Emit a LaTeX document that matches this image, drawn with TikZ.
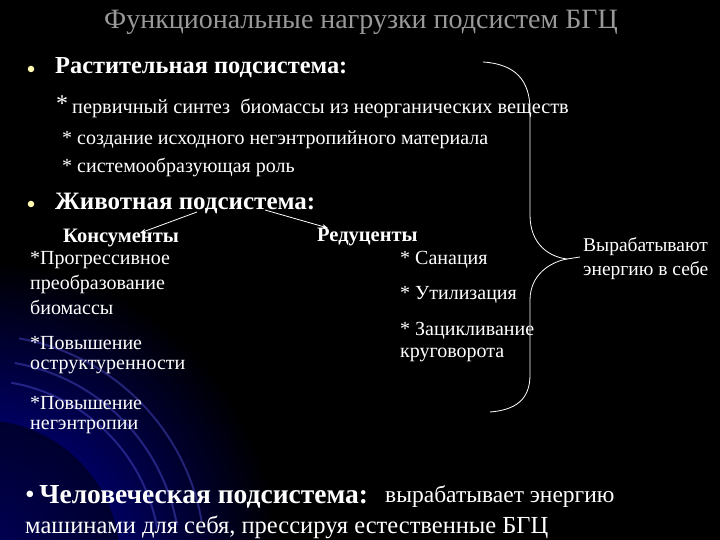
\documentclass[tikz,border=0pt]{standalone}
\usepackage{fontspec}
\setmainfont{Liberation Serif}
\usetikzlibrary{arrows.meta}
\newcommand{\fs}[1]{\fontsize{#1}{#1}\selectfont}
\begin{document}
\begin{tikzpicture}[x=1pt,y=-1pt,
  txt/.style={anchor=west,text=white,inner sep=0pt},
  bul/.style={circle,fill=yellow!30!white,inner sep=0pt,minimum size=6.5pt},
  arr/.style={draw=white,thick,-{Stealth[length=6pt]}},
  brace/.style={draw=white,line width=0.8pt}]
\useasboundingbox (0,0) rectangle (720,540);
\fill[black] (0,0) rectangle (720,540);
\begin{scope}
\clip (0,0) rectangle (720,540);
\shade[inner color=blue!70!black,outer color=black] (-20,560) circle (300);
\fill[black,opacity=0.5] (-20,560) circle (140);
\foreach \r in {180,200,225}{\draw[blue!60!white,opacity=0.35,line width=2pt] (-20,560) ++(-10:\r) arc (-10:-80:\r);}
\end{scope}
\node[anchor=center,text=gray!80!white,inner sep=0pt] (title) at (361,22) {\fs{28}Функциональные нагрузки подсистем БГЦ};
\node[bul] (b1) at (31,69) {};
\node[txt] (plant) at (55,68) {\fs{24.4}\bfseries Растительная подсистема:};
\node[txt] (s0) at (56,104) {\fs{24}*};
\node[txt] (p1) at (72,108) {\fs{20.3}первичный синтез\ \ биомассы из неорганических веществ};
\node[txt] (p2) at (62,140) {\fs{20}* создание исходного негэнтропийного материала};
\node[txt] (p3) at (62,168) {\fs{20}* системообразующая роль};
\node[bul] (b2) at (31,204) {};
\node[txt] (anim) at (55,203) {\fs{25}\bfseries Животная подсистема:};
\node[txt] (kons) at (63,238) {\fs{20.5}\bfseries Консументы};
\node[txt] (red) at (317,237) {\fs{20.5}\bfseries Редуценты};
\draw[arr] (197,212) -- (140,233);
\draw[arr] (265,210) -- (328,228);
\node[txt] (k1) at (30,260) {\fs{20}*Прогрессивное};
\node[txt] (k2) at (30,284) {\fs{20}преобразование};
\node[txt] (k3) at (30,307) {\fs{20}биомассы};
\node[txt] (k4) at (30,343) {\fs{20}*Повышение};
\node[txt] (k5) at (30,367) {\fs{20}оструктуренности};
\node[txt] (k6) at (30,403) {\fs{20}*Повышение};
\node[txt] (k7) at (30,427) {\fs{20}негэнтропии};
\node[txt] (r1) at (400,260) {\fs{20}* Санация};
\node[txt] (r2) at (400,295) {\fs{20}* Утилизация};
\node[txt] (r3) at (400,331) {\fs{20}* Зацикливание};
\node[txt] (r4) at (400,355) {\fs{20}круговорота};
\node[txt] (e1) at (583,247) {\fs{19.5}Вырабатывают};
\node[txt] (e2) at (583,271) {\fs{19.5}энергию в себе};
\coordinate (tip) at (567,259);
\draw[brace] (483,62) .. controls (515,64) and (530,80) .. (530,110) -- (530,215)
  .. controls (530,245) and (550,257) .. (tip);
\draw[brace] (tip) -- (580,257);
\draw[brace] (tip) .. controls (550,262) and (530,275) .. (530,300) -- (530,375)
  .. controls (530,400) and (515,410) .. (490,412);
\node[txt] (h1) at (25,497) {\fs{27.5}•\,\bfseries Человеческая подсистема:};
\node[txt] (h2) at (385,497) {\fs{23.5}вырабатывает энергию};
\node[txt] (h3) at (25,527) {\fs{24.5}машинами для себя, прессируя естественные БГЦ};
\end{tikzpicture}
\end{document}
